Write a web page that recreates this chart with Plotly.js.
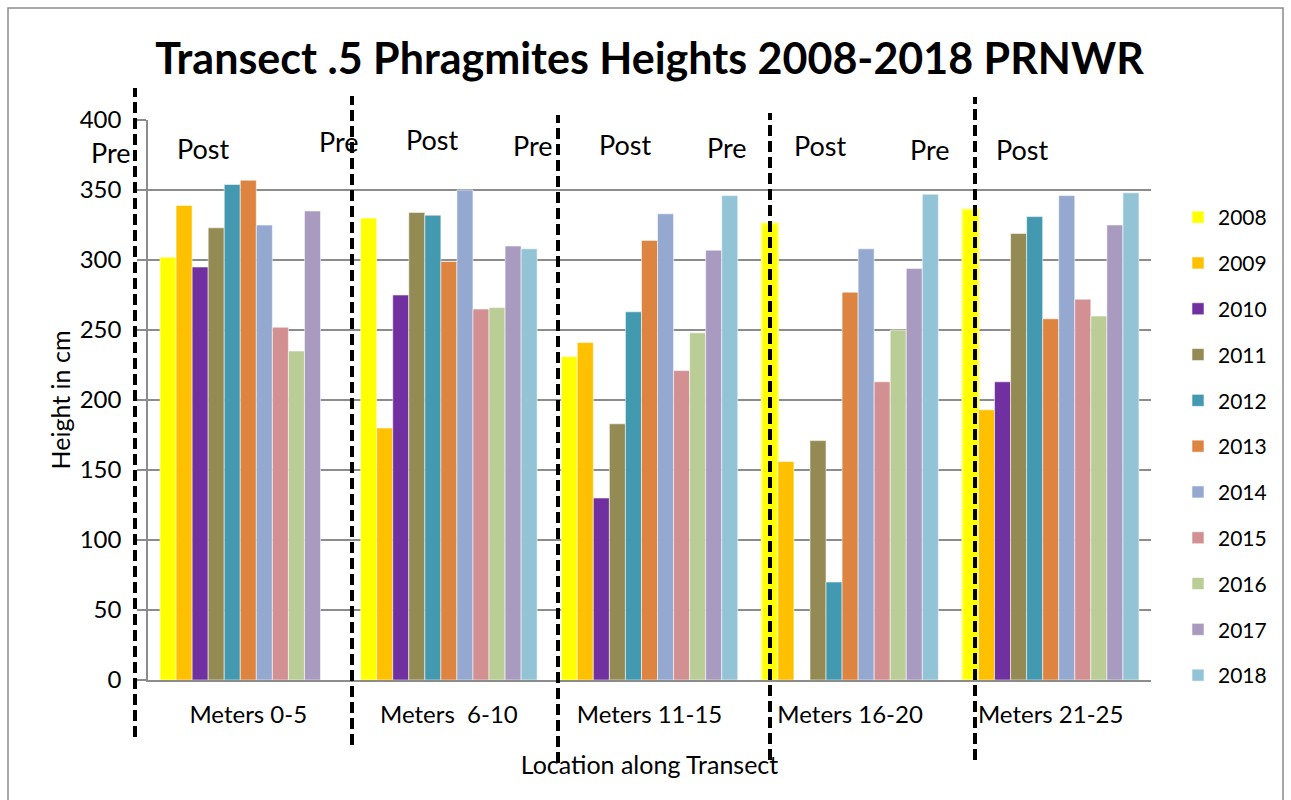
<!DOCTYPE html>
<html>
<head>
<meta charset="utf-8">
<script src="https://cdn.plot.ly/plotly-3.0.1.min.js"></script>
<style>
  html, body { margin: 0; padding: 0; background: #fff; }
  #chart { width: 1291px; height: 800px; }
</style>
</head>
<body>
<div id="chart"></div>
<script>
// ---- Data ----
const categories = ['Meters 0-5', 'Meters \u00a06-10', 'Meters 11-15', 'Meters 16-20', 'Meters 21-25'];
const years = ['2008', '2009', '2010', '2011', '2012', '2013', '2014', '2015', '2016', '2017', '2018'];
const y2008 = [302, 330, 231, 326, 336];
const y2009 = [339, 180, 241, 156, 193];
const y2010 = [295, 275, 130, null, 213];
const y2011 = [323, 334, 183, 171, 319];
const y2012 = [354, 332, 263, 70, 331];
const y2013 = [357, 299, 314, 277, 258];
const y2014 = [325, 350, 333, 308, 346];
const y2015 = [252, 265, 221, 213, 272];
const y2016 = [235, 266, 248, 250, 260];
const y2017 = [335, 310, 307, 294, 325];
const y2018 = [null, 308, 346, 347, 348];
const yTickVals = [0, 50, 100, 150, 200, 250, 300, 350, 400];
const phaseLabels = ['Pre', 'Post', 'Pre', 'Post', 'Pre', 'Post', 'Pre', 'Post', 'Pre', 'Post'];

// ---- Styles ----
const colors = ['#FFFF00', '#FFC000', '#7030A0', '#948A54', '#4299B0', '#DD8441',
                '#95A9D0', '#D39092', '#BACD96', '#A99ABF', '#93C4D6'];
const series = [y2008, y2009, y2010, y2011, y2012, y2013, y2014, y2015, y2016, y2017, y2018];
const FONT = 'Lato, "Open Sans", sans-serif';

// plot area in px (page): x 148..1151, y 120..680
const PL = 148, PR = 1151, PT = 120, PB = 680;
const px2x = p => (p - PL) / (PR - PL);
const px2y = p => (PB - p) / (PB - PT);

const traces = series.map((vals, i) => {
  const lineColors = vals.map((v, j) => (i === 0 && (j === 3 || j === 4)) ? '#FFFF66' : 'rgba(255,255,255,0.55)');
  const lineWidths = vals.map((v, j) => (i === 0 && (j === 3 || j === 4)) ? 2 : 1);
  return {
    type: 'bar',
    name: years[i],
    x: categories,
    y: vals,
    legendgroup: years[i],
    marker: { color: colors[i], line: { color: lineColors, width: lineWidths } },
    hoverinfo: 'x+y+name'
  };
});

// dashed separators (page px)
const dashX = [135, 352, 558, 770, 975];
const dashTop = [88, 96, 115, 113, 97];
const dashBot = [737, 745, 763, 760, 760];
const shapes = dashX.map((x, i) => ({
  type: 'line', xref: 'paper', yref: 'paper',
  x0: px2x(x), x1: px2x(x), y0: px2y(dashBot[i]), y1: px2y(dashTop[i]),
  line: { color: '#000', width: 4, dash: '11px,5px' }, layer: 'above'
}));
// outer chart border
shapes.push({
  type: 'rect', xref: 'paper', yref: 'paper',
  x0: px2x(8), x1: px2x(1283), y0: px2y(812), y1: px2y(8),
  line: { color: '#8c8c8c', width: 1.5 }, fillcolor: 'rgba(0,0,0,0)', layer: 'below'
});

// Pre / Post labels (page px centres)
const phaseX = [111, 203, 339, 432, 533, 625, 727, 820, 930, 1022];
const phaseY = [152, 148, 141, 139, 146, 145, 147, 146, 149, 149];
const annotations = phaseLabels.map((t, i) => ({
  text: t, xref: 'paper', yref: 'paper', x: px2x(phaseX[i]), y: px2y(phaseY[i]),
  xanchor: 'center', yanchor: 'middle', showarrow: false,
  font: { family: FONT, size: 27, color: '#000' }
}));

const layout = {
  width: 1291, height: 800,
  margin: { l: PL, r: 1291 - PR, t: PT, b: 800 - PB, pad: 0 },
  paper_bgcolor: '#fff', plot_bgcolor: '#fff',
  font: { family: FONT, color: '#000' },
  title: {
    text: '<b>Transect .5 Phragmites Heights 2008-2018 PRNWR</b>',
    font: { family: FONT, size: 43, color: '#000' },
    x: 0.5, xref: 'paper', xanchor: 'center',
    y: (800 - 59) / 800, yref: 'container', yanchor: 'middle'
  },
  barmode: 'group', bargap: 0.12, bargroupgap: 0,
  xaxis: {
    type: 'category',
    showgrid: false, zeroline: false,
    showline: true, linecolor: '#8c8c8c', linewidth: 1.5,
    ticks: '', tickfont: { family: FONT, size: 24, color: '#000' },
    ticklabelstandoff: 12,
    title: { text: 'Location along Transect', font: { family: FONT, size: 25, color: '#000' }, standoff: 30 },
    automargin: false
  },
  yaxis: {
    range: [0, 400], tickvals: yTickVals,
    showgrid: true, gridcolor: '#8c8c8c', gridwidth: 1.5,
    zeroline: false,
    showline: true, linecolor: '#8c8c8c', linewidth: 1.5,
    ticks: 'outside', ticklen: 9, tickcolor: '#8c8c8c', tickwidth: 1.5,
    tickfont: { family: FONT, size: 24, color: '#000' },
    ticklabelstandoff: 11,
    title: { text: 'Height in cm', font: { family: FONT, size: 25, color: '#000' }, standoff: 2 },
    automargin: false
  },
  showlegend: true,
  legend: {
    x: px2x(1178), xanchor: 'left', y: px2y(197), yanchor: 'top',
    font: { family: FONT, size: 21, color: '#000' },
    tracegroupgap: 15.5, traceorder: 'grouped',
    bgcolor: 'rgba(0,0,0,0)', borderwidth: 0
  },
  shapes: shapes,
  annotations: annotations
};

Plotly.newPlot('chart', traces, layout, { displayModeBar: false, responsive: false });
</script>
</body>
</html>
